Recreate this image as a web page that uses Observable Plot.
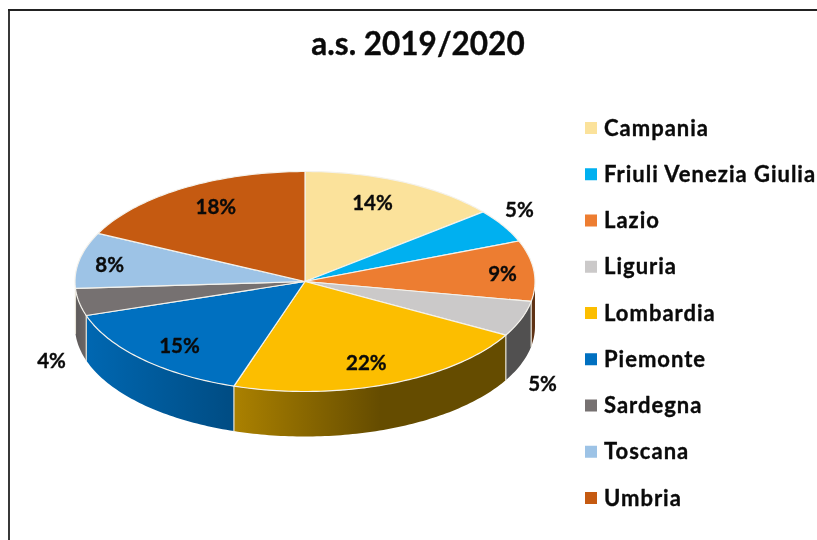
<!DOCTYPE html>
<html>
<head>
<meta charset="utf-8">
<script src="https://cdn.jsdelivr.net/npm/d3@7"></script>
<script src="https://cdn.jsdelivr.net/npm/@observablehq/plot@0.6"></script>
<style>html,body{margin:0;padding:0;background:#fff}svg{display:block;filter:blur(.35px)}.legend-names text{letter-spacing:1px}</style>
</head>
<body>
<div id="chart"></div>
<script>
const chartTitle = "a.s. 2019/2020";
const regions = ["Campania","Friuli Venezia Giulia","Lazio","Liguria","Lombardia","Piemonte","Sardegna","Toscana","Umbria"];
const shares = [14.1,4.9,8.9,5.2,21.9,15.0,4.0,8.2,17.8];
const colours = ["#fbe29b","#00b0f0","#ed7d31","#cbc9c9","#fcbe00","#0070c0","#767171","#9dc3e6","#c55a11"];

// Layout of the tilted pie, in page pixels
const W = 817, H = 540, cx = 304.5, cy = 281, rx = 230, ry = 110, depth = 45;
const labelRadius = [.767,1.134,.861,1.394,.791,.805,1.32,.862,.777];
const labelTurn = [-2.9,-4.3,1.3,22.4,1.7,-2.3,-22.6,-1.4,2.1];
const legendTop = 128, legendStep = 46.25;
// Wall shading: brightness factor at page x positions, as in the reference's side gradient
const shadeX = [75, 87, 233, 380, 535];
const shadeK = [.8, .92, .68, .4, .4];

const total = d3.sum(shares);
const arcs = [];
let run = 0;
shares.forEach((v, i) => {
  const a0 = run / total * 360; run += v;
  arcs.push({i, a0, a1: run / total * 360});
});
const rad = d => d * Math.PI / 180;
const px = (deg, k = 1) => cx + rx * k * Math.sin(rad(deg));
const py = (deg, k = 1) => cy - ry * k * Math.cos(rad(deg));
const sweep = (a0, a1) => {
  const n = Math.max(1, Math.ceil(a1 - a0)), out = [];
  for (let j = 0; j <= n; j++) out.push(a0 + (a1 - a0) * j / n);
  return out;
};

// Top faces
const faces = [];
for (const {i, a0, a1} of arcs) {
  const ring = [{x: cx, y: cy}, ...sweep(a0, a1).map(a => ({x: px(a), y: py(a)})), {x: cx, y: cy}];
  for (const p of ring) faces.push({...p, z: "t" + i, fill: colours[i]});
}

// Front wall: one outline per visible slice, filled with a horizontal gradient
const darken = (c, k) => { const r = d3.rgb(c); return d3.rgb(r.r * k, r.g * k, r.b * k).formatHex(); };
const walls = [], seams = [];
for (const {i, a0, a1} of arcs) {
  const s = Math.max(a0, 90), e = Math.min(a1, 270);
  if (e <= s) continue;
  const angles = sweep(s, e);
  const pts = [
    ...angles.map(a => ({x: px(a), y: py(a)})),
    ...angles.slice().reverse().map(a => ({x: px(a), y: py(a) + depth}))
  ];
  pts.push(pts[0]);
  walls.push({i, pts});
  if (a0 > 90 && a0 < 270)
    seams.push({x: px(a0), y: py(a0), z: "s" + i}, {x: px(a0), y: py(a0) + depth, z: "s" + i});
}

const sliceLabels = arcs.map(({i, a0, a1}) => {
  const m = (a0 + a1) / 2 + labelTurn[i];
  return {x: px(m, labelRadius[i]), y: py(m, labelRadius[i]), text: Math.round(shares[i]) + "%"};
});
const legendRows = regions.map((name, i) => ({name, colour: colours[i], y: legendTop + i * legendStep}));

// Gradient definitions, drawn once in a small render mark
const gradients = () => {
  const g = d3.create("svg:defs");
  for (const {i} of walls) {
    const lg = g.append("linearGradient").attr("id", "wall" + i).attr("gradientUnits", "userSpaceOnUse")
      .attr("x1", shadeX[0]).attr("x2", shadeX[shadeX.length - 1]).attr("y1", 0).attr("y2", 0);
    shadeX.forEach((x, j) => lg.append("stop")
      .attr("offset", (x - shadeX[0]) / (shadeX[shadeX.length - 1] - shadeX[0]))
      .attr("stop-color", darken(colours[i], shadeK[j])));
  }
  return g.node();
};

const font = "Lato, Carlito, Calibri, sans-serif";
const ink = "#0a0a0a";
const heavy = {fontFamily: font, fontWeight: 700, fill: ink, stroke: ink, strokeWidth: .35};
const chart = Plot.plot({
  width: W, height: H, margin: 0,
  x: {domain: [0, W], range: [0, W], axis: null},
  y: {domain: [0, H], range: [0, H], axis: null},
  color: {type: "identity"},
  marks: [
    gradients,
    Plot.ruleY([9.5], {x1: 8, x2: W, stroke: "#222", strokeWidth: 1.8}),
    Plot.ruleX([8.5], {y1: 9, y2: H, stroke: "#222", strokeWidth: 1.8}),
    ...walls.map(w => Plot.line(w.pts, {x: "x", y: "y", fill: `url(#wall${w.i})`, stroke: "none", curve: "linear"})),
    Plot.line(seams, {x: "x", y: "y", z: "z", stroke: "#e8e4d8", strokeWidth: 1.2}),
    Plot.line(faces, {x: "x", y: "y", z: "z", fill: "fill", stroke: "#f4f2ec", strokeWidth: 1.2, strokeLinejoin: "round", curve: "linear"}),
    Plot.text(sliceLabels, {x: "x", y: "y", text: "text", fontSize: 20.5, ...heavy}),
    Plot.text([chartTitle], {x: 417.5, y: 44, text: d => d, fontSize: 31.5, ...heavy}),
    Plot.rect(legendRows, {x1: 585, x2: 597, y1: d => d.y - 6, y2: d => d.y + 6, fill: "colour"}),
    Plot.text(legendRows, {className: "legend-names", x: 603.5, y: "y", text: "name", textAnchor: "start", fontSize: 22, ...heavy})
  ]
});
document.getElementById("chart").append(chart);
</script>
</body>
</html>
